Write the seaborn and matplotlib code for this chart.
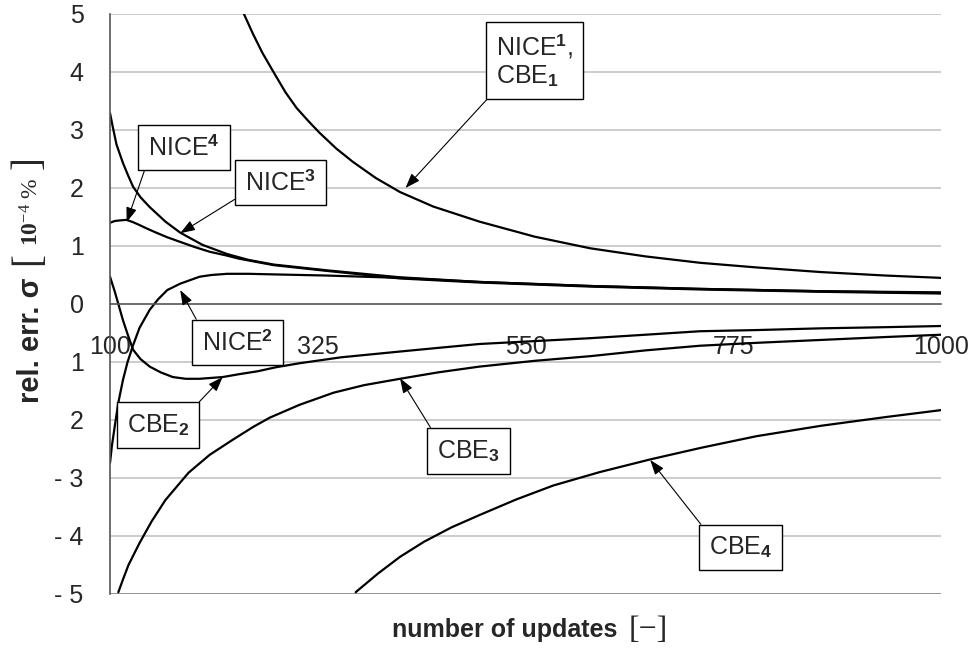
import numpy as np
import matplotlib
matplotlib.use("Agg")
import matplotlib.pyplot as plt
import seaborn as sns

# Curve data (x = number of updates, y = rel. err. in 1e-4 %)
nice1_x = [245, 255, 265, 277, 290, 302, 315, 327, 345, 363, 388, 414, 450, 500, 560, 620, 680, 739, 800, 870, 940, 1000]
nice1_y = [5.0, 4.65, 4.33, 4.0, 3.65, 3.38, 3.15, 2.95, 2.68, 2.45, 2.17, 1.93, 1.68, 1.42, 1.16, 0.96, 0.82, 0.71, 0.63, 0.55, 0.49, 0.45]

nice3_x = [100, 103, 107, 114, 120, 125, 133, 143, 160, 176, 200, 227, 250, 277, 335, 414, 500, 620, 739, 870, 1000]
nice3_y = [3.29, 3.05, 2.75, 2.43, 2.2, 2.02, 1.84, 1.67, 1.42, 1.23, 1.02, 0.86, 0.76, 0.68, 0.58, 0.46, 0.38, 0.31, 0.26, 0.22, 0.20]

nice4_x = [100, 105, 110, 118, 125, 132, 140, 150, 162, 176, 192, 208, 225, 240, 277, 335, 414, 500, 620, 739, 870, 1000]
nice4_y = [1.40, 1.43, 1.44, 1.45, 1.41, 1.36, 1.30, 1.23, 1.15, 1.07, 0.98, 0.90, 0.84, 0.78, 0.67, 0.57, 0.44, 0.37, 0.30, 0.25, 0.21, 0.18]

nice2_x = [100, 102, 105, 109, 114, 119, 125, 132, 143, 152, 162, 176, 197, 210, 227, 250, 277, 335, 414, 500, 620, 739, 870, 1000]
nice2_y = [-2.74, -2.45, -2.12, -1.7, -1.31, -1.0, -0.71, -0.41, -0.1, 0.08, 0.24, 0.35, 0.47, 0.50, 0.52, 0.52, 0.51, 0.49, 0.45, 0.38, 0.31, 0.26, 0.22, 0.19]

cbe2_x = [100, 103, 105, 109, 114, 119, 125, 133, 143, 155, 168, 182, 197, 222, 240, 260, 280, 306, 350, 414, 460, 500, 560, 620, 680, 739, 800, 870, 940, 1000]
cbe2_y = [0.47, 0.32, 0.22, 0.0, -0.28, -0.52, -0.79, -0.95, -1.08, -1.18, -1.26, -1.29, -1.29, -1.26, -1.21, -1.16, -1.09, -1.02, -0.92, -0.82, -0.75, -0.69, -0.64, -0.59, -0.53, -0.47, -0.45, -0.42, -0.40, -0.38]

cbe3_x = [109, 114, 120, 132, 145, 160, 185, 208, 233, 255, 273, 305, 342, 375, 414, 455, 500, 560, 620, 680, 739, 800, 870, 940, 1000]
cbe3_y = [-4.97, -4.75, -4.5, -4.12, -3.75, -3.38, -2.91, -2.6, -2.34, -2.12, -1.96, -1.74, -1.53, -1.4, -1.29, -1.18, -1.08, -0.98, -0.9, -0.8, -0.72, -0.67, -0.62, -0.57, -0.53]

cbe4_x = [366, 390, 414, 440, 470, 500, 540, 580, 630, 685, 740, 800, 870, 940, 1000]
cbe4_y = [-4.97, -4.65, -4.36, -4.1, -3.85, -3.64, -3.37, -3.13, -2.9, -2.68, -2.48, -2.28, -2.10, -1.95, -1.83]

x_ticks = [100, 325, 550, 775, 1000]
y_ticks = [-5, -4, -3, -2, -1, 0, 1, 2, 3, 4, 5]
y_tick_labels = ["- 5", "- 4", "- 3", "2", "1", "0", "1", "2", "3", "4", "5"]

sns.set_style("white")
plt.rcParams["font.family"] = ["Liberation Sans", "DejaVu Sans"]
plt.rcParams["mathtext.fontset"] = "custom"
plt.rcParams["mathtext.rm"] = "Liberation Serif"
plt.rcParams["mathtext.it"] = "Liberation Serif:italic"
plt.rcParams["mathtext.bf"] = "Liberation Serif:bold"
plt.rcParams["mathtext.sf"] = "Liberation Sans:bold"

W, H = 972, 650
fig = plt.figure(figsize=(W / 100, H / 100), dpi=100)
ax = fig.add_axes([0.1132, 0.0862, 0.855, 0.8923])

# grid lines
for yv in y_ticks:
    if yv == 0:
        continue
    ax.axhline(yv, color="#808080" if yv == -5 else "#c4c4c4", lw=1.2, zorder=0)

curves = [(nice1_x, nice1_y), (nice3_x, nice3_y), (nice4_x, nice4_y), (nice2_x, nice2_y),
          (cbe2_x, cbe2_y), (cbe3_x, cbe3_y), (cbe4_x, cbe4_y)]
for cx, cy in curves:
    sns.lineplot(x=cx, y=cy, color="black", lw=1.6, ax=ax, sort=False, estimator=None)

ax.set_xlim(100, 1000)
ax.set_ylim(-5, 5)

# axes look
for s in ["top", "right"]:
    ax.spines[s].set_visible(False)
ax.spines["bottom"].set_position(("data", 0))
ax.spines["bottom"].set_color("#555555")
ax.spines["left"].set_color("#555555")
ax.spines["bottom"].set_linewidth(1.2)
ax.spines["left"].set_linewidth(1.2)

ax.set_xticks(x_ticks)
ax.set_xticklabels([str(t) for t in x_ticks])
ax.set_yticks(y_ticks)
ax.set_yticklabels(y_tick_labels)
ax.tick_params(axis="x", direction="out", length=6, width=1, color="#555555", pad=16, labelsize=18)
ax.tick_params(axis="y", direction="out", length=7, width=1, color="#555555", pad=12, labelsize=18)

# axis titles, built from pieces so the brackets can be large
fig.text(505 / W, 1 - 630 / H, "number of updates", fontsize=18, fontweight="bold",
         ha="center", va="center")
fig.text(648 / W, 1 - 631 / H, "[\u2212]", fontsize=23, family="Liberation Serif",
         ha="center", va="center")

fig.text(31 / W, 1 - 340 / H, "rel. err. σ", fontsize=21, fontweight="bold",
         rotation=90, ha="center", va="center")
fig.text(29 / W, 1 - 259 / H, "[", fontsize=28, family="Liberation Serif",
         rotation=90, ha="center", va="center")
fig.text(32 / W, 1 - 212 / H, r"$\mathbf{10}^{\mathrm{-4}}$ %", fontsize=17,
         family="Liberation Serif", rotation=90, ha="center", va="center")
fig.text(29 / W, 1 - 163 / H, "]", fontsize=28, family="Liberation Serif",
         rotation=90, ha="center", va="center")

box = dict(boxstyle="square,pad=0.4", fc="white", ec="black", lw=1)

def label(text, xy, xytext, relpos):
    ax.annotate(text, xy=xy, xytext=xytext, fontsize=18, ha="center", va="center",
                multialignment="left", bbox=box, zorder=5,
                arrowprops=dict(arrowstyle="-|>,head_length=0.5,head_width=0.18",
                                color="black", lw=0.8, relpos=relpos, shrinkA=0, shrinkB=0))

label("NICE$^{\\mathsf{1}}$,\nCBE$_{\\mathsf{1}}$", (420, 2.0), (560, 4.2), (0, 0))
label("NICE$^{\\mathsf{4}}$", (118, 1.41), (180, 2.7), (0, 0))
label("NICE$^{\\mathsf{3}}$", (176, 1.22), (285, 2.09), (0, 0.1))
label("NICE$^{\\mathsf{2}}$", (176, 0.24), (238, -0.66), (0, 1))
label("CBE$_{\\mathsf{2}}$", (222, -1.26), (152, -2.09), (1, 1))
label("CBE$_{\\mathsf{3}}$", (414, -1.28), (488, -2.53), (0, 1))
label("CBE$_{\\mathsf{4}}$", (685, -2.69), (783, -4.2), (0, 1))

fig.savefig("out.png", dpi=100)
